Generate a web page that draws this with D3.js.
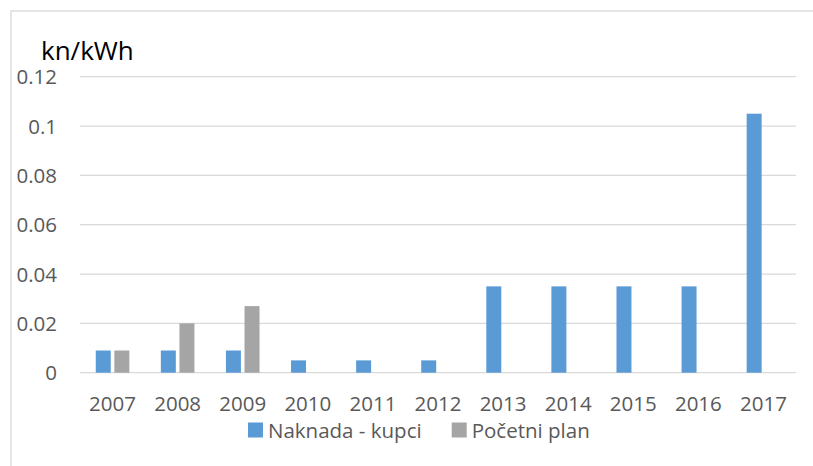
<!DOCTYPE html>
<html><head><meta charset="utf-8">
<script src="https://cdn.jsdelivr.net/npm/d3@7"></script>
<style>body{margin:0;background:#fff}svg{display:block}text{font-family:"Open Sans",sans-serif}</style>
</head><body><svg id="c" width="813" height="466"></svg>
<script>
const categories = ["2007","2008","2009","2010","2011","2012","2013","2014","2015","2016","2017"];
const seriesNames = ["Naknada - kupci","Početni plan"];
const naknada = [0.009,0.009,0.009,0.005,0.005,0.005,0.035,0.035,0.035,0.035,0.105];
const pocetni = [0.009,0.020,0.027,null,null,null,null,null,null,null,null];
const yTicks = [0,0.02,0.04,0.06,0.08,0.1,0.12];
const yTickLabels = ["0","0.02","0.04","0.06","0.08","0.1","0.12"];
const colors = ["#5B9BD5","#A5A5A5"];
const unitLabel = "kn/kWh";

const svg = d3.select("#c");
const m = {l:80, r:796, t:76.7, b:372.7};
svg.append("rect").attr("x",11).attr("y",11).attr("width",900).attr("height",600)
  .attr("fill","none").attr("stroke","#d9d9d9").attr("stroke-width",1.3);

const x0 = d3.scaleBand().domain(categories).range([m.l,m.r]).padding(0);
const x1 = d3.scaleBand().domain(seriesNames).range([0,x0.bandwidth()]).paddingInner(0.194).paddingOuter(0.847);
const y = d3.scaleLinear().domain([0,0.12]).range([m.b,m.t]);

// gridlines
svg.append("g").selectAll("line").data(yTicks).join("line")
  .attr("x1",m.l).attr("x2",m.r).attr("y1",d=>y(d)).attr("y2",d=>y(d))
  .attr("stroke","#d9d9d9").attr("stroke-width",1.3);

// y labels
const yAxis = d3.axisLeft(y).tickValues(yTicks).tickFormat((d,i)=>yTickLabels[i]).tickSize(0).tickPadding(0);
const ga = svg.append("g").attr("transform","translate(57,0)").call(yAxis);
ga.select(".domain").remove();
ga.selectAll("text").attr("font-size",20.5).attr("fill","#595959").attr("font-family","'Open Sans',sans-serif").attr("dy","0.35em");

// bars
const data = [naknada,pocetni];
seriesNames.forEach((s,si)=>{
  svg.append("g").selectAll("rect").data(categories.map((c,i)=>({c,v:data[si][i]})).filter(d=>d.v!=null)).join("rect")
    .attr("x",d=>x0(d.c)+x1(s)).attr("width",x1.bandwidth())
    .attr("y",d=>y(d.v)).attr("height",d=>y(0)-y(d.v)).attr("fill",colors[si]);
});

// x labels
const xAxis = d3.axisBottom(x0).tickSize(0).tickPadding(0);
const gx = svg.append("g").attr("transform","translate(0,410.5)").call(xAxis);
gx.select(".domain").remove();
gx.selectAll("text").attr("font-size",20.5).attr("fill","#595959").attr("font-family","'Open Sans',sans-serif").attr("dy","0");

// title
svg.append("text").attr("x",41).attr("y",59.5).attr("font-size",26).attr("fill","#000").text(unitLabel);

// legend
const lx = [248,451.7];
seriesNames.forEach((s,i)=>{
  svg.append("rect").attr("x",lx[i]).attr("y",422.5).attr("width",15).attr("height",15).attr("fill",colors[i]);
  svg.append("text").attr("x",lx[i]+20).attr("y",437.5).attr("font-size",20.5).attr("fill","#595959").text(s);
});
</script></body></html>
